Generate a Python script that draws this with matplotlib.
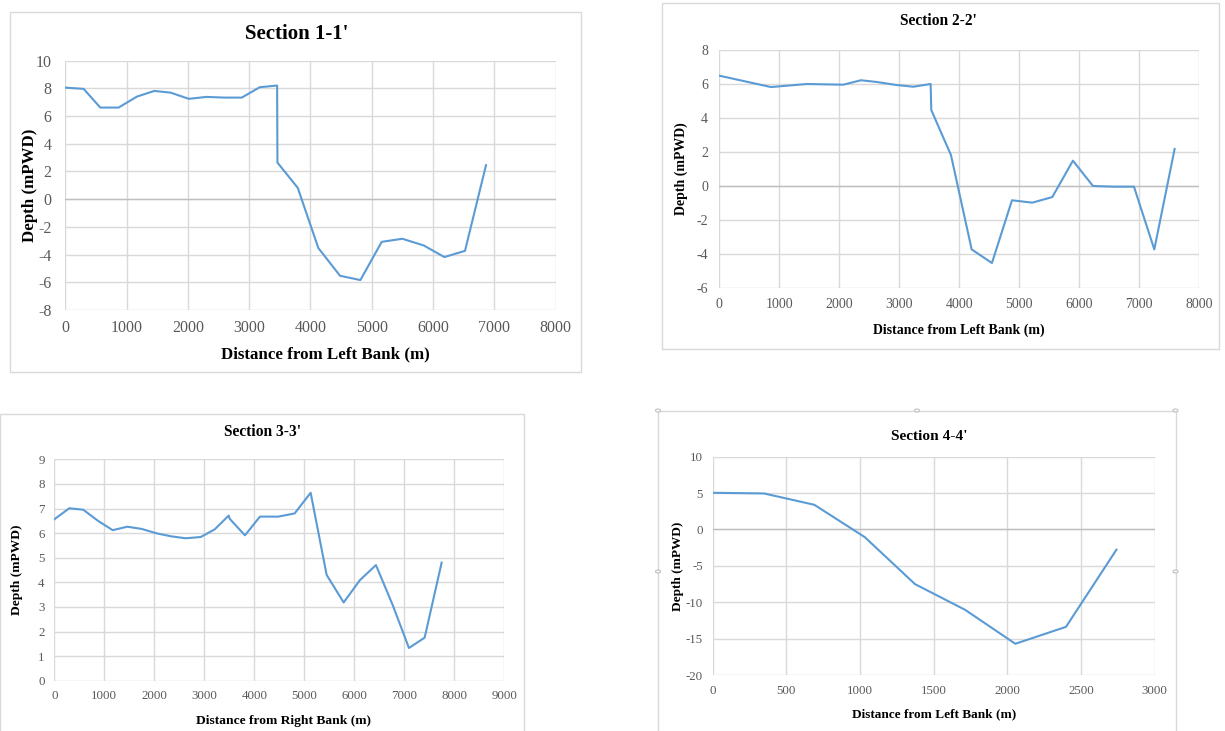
import numpy as np
import matplotlib
matplotlib.use("Agg")
import matplotlib.pyplot as plt
from matplotlib.patches import Rectangle, Circle

plt.rcParams['font.family'] = ['Liberation Serif', 'DejaVu Serif']
plt.rcParams['axes.unicode_minus'] = False

# Section 1-1'
x1 = [0, 299, 571, 870, 1168, 1451, 1717, 2016, 2304, 2592, 2880, 3174, 3457, 3462,
      3793, 4130, 4484, 4816, 5164, 5501, 5849, 6186, 6523, 6866]
y1 = [8.05, 7.96, 6.61, 6.61, 7.40, 7.81, 7.69, 7.24, 7.38, 7.33, 7.33, 8.08, 8.20, 2.64,
      0.82, -3.53, -5.53, -5.84, -3.08, -2.86, -3.34, -4.18, -3.73, 2.45]

# Section 2-2'
x2 = [0, 861, 1456, 2067, 2361, 2622, 2956, 3233, 3522, 3533, 3861, 4206, 4544, 4878,
      5217, 5550, 5894, 6228, 6567, 6911, 7250, 7589]
y2 = [6.49, 5.82, 6.00, 5.96, 6.22, 6.12, 5.94, 5.84, 6.00, 4.47, 1.82, -3.73, -4.53, -0.84,
      -0.98, -0.65, 1.49, 0.00, -0.04, -0.04, -3.73, 2.18]

# Section 3-3'
x3 = [0, 300, 580, 880, 1167, 1460, 1747, 2047, 2333, 2627, 2927, 3207, 3487, 3513, 3813,
      4113, 4480, 4807, 5127, 5447, 5787, 6113, 6433, 6767, 7093, 7407, 7747]
y3 = [6.56, 7.01, 6.95, 6.49, 6.12, 6.26, 6.17, 5.99, 5.87, 5.79, 5.84, 6.15, 6.71, 6.57, 5.91,
      6.67, 6.67, 6.80, 7.64, 4.30, 3.18, 4.09, 4.70, 3.08, 1.33, 1.75, 4.80]

# Section 4-4'
x4 = [0, 348, 690, 1032, 1373, 1713, 2054, 2398, 2740]
y4 = [5.04, 4.95, 3.39, -1.05, -7.51, -11.04, -15.71, -13.38, -2.79]

W, H = 1225, 731
fig = plt.figure(figsize=(W / 100, H / 100), dpi=100)
fig.patch.set_facecolor('white')

LINE = '#5B9BD5'
GRID = '#D9D9D9'
TICK = '#595959'


def px_axes(l, r, t, b):
    return fig.add_axes([l / W, 1 - b / H, (r - l) / W, (b - t) / H])


def panel(l, t, r, b):
    fig.patches.append(Rectangle((l / W, 1 - b / H), (r - l) / W, (b - t) / H,
                                 transform=fig.transFigure, fill=False,
                                 edgecolor=GRID, linewidth=1))


def chart(ax, x, y, xlim, xstep, ylim, ystep, tfs, xlabel, lfs, lx, ly, ypad=7, zero=True):
    ax.plot(x, y, color=LINE, linewidth=1.5, zorder=3)
    ax.set_xlim(*xlim)
    ax.set_ylim(*ylim)
    ax.set_xticks(np.arange(xlim[0], xlim[1] + 1, xstep))
    ax.set_yticks(np.arange(ylim[0], ylim[1] + 0.01, ystep))
    ax.grid(True, color=GRID, linewidth=1)
    ax.set_axisbelow(True)
    if zero and ylim[0] < 0:
        ax.axhline(0, color='#BFBFBF', linewidth=1, zorder=2)
    for s in ax.spines.values():
        s.set_visible(False)
    ax.tick_params(length=0, labelsize=tfs, colors=TICK)
    ax.tick_params(axis='x', pad=7)
    ax.tick_params(axis='y', pad=ypad)
    ax.set_xlabel(xlabel, fontsize=lfs, fontweight='bold', va='center')
    ax.set_ylabel('Depth (mPWD)', fontsize=lfs, fontweight='bold', va='center')
    ax.xaxis.set_label_coords(*lx)
    ax.yaxis.set_label_coords(*ly)


# panel borders
panel(10, 11.5, 580.5, 371.5)
panel(661.5, 3, 1219, 349)
panel(0, 414, 524, 740)
panel(658, 410.5, 1175.5, 740)
for hx, hy in [(658, 410.5), (917, 410.5), (1175.5, 410.5), (658, 571.5), (1175.5, 571.5)]:
    fig.patches.append(Circle((hx / W, 1 - hy / H), 2.5 / W, transform=fig.transFigure,
                              facecolor='white', edgecolor='#BFBFBF', linewidth=0.8))

ax1 = px_axes(65.3, 555.5, 60.6, 310)
chart(ax1, x1, y1, (0, 8000), 1000, (-8, 10), 2, 11.5,
      'Distance from Left Bank (m)', 12.2, ((325 - 65.3) / 490.2, -0.176), (-0.072, 0.5),
      ypad=10)
fig.text(297 / W, 1 - 34 / H, "Section 1-1'", fontsize=15, fontweight='bold',
         ha='center', va='center')

ax2 = px_axes(719.3, 1199.3, 50, 288)
chart(ax2, x2, y2, (0, 8000), 1000, (-6, 8), 2, 10,
      'Distance from Left Bank (m)', 10, (0.5, -0.176), (-0.08, 0.5), ypad=8)
fig.text(938 / W, 1 - 21 / H, "Section 2-2'", fontsize=11.2, fontweight='bold',
         ha='center', va='center')

ax3 = px_axes(54.3, 504.3, 459.3, 680.7)
chart(ax3, x3, y3, (0, 9000), 1000, (0, 9), 1, 9.3,
      'Distance from Right Bank (m)', 9.7, ((283 - 54.3) / 450, -0.18), (-0.083, 0.5),
      zero=False)
fig.text(262 / W, 1 - 432 / H, "Section 3-3'", fontsize=11.2, fontweight='bold',
         ha='center', va='center')

ax4 = px_axes(712.7, 1154.7, 456.7, 675)
chart(ax4, x4, y4, (0, 3000), 500, (-20, 10), 5, 9.3,
      'Distance from Left Bank (m)', 9.5, ((934 - 712.7) / 442, -0.179), (-0.079, 0.5))
fig.text(929 / W, 1 - 437 / H, "Section 4-4'", fontsize=11.1, fontweight='bold',
         ha='center', va='center')

fig.savefig('out.png', dpi=100, facecolor='white')
